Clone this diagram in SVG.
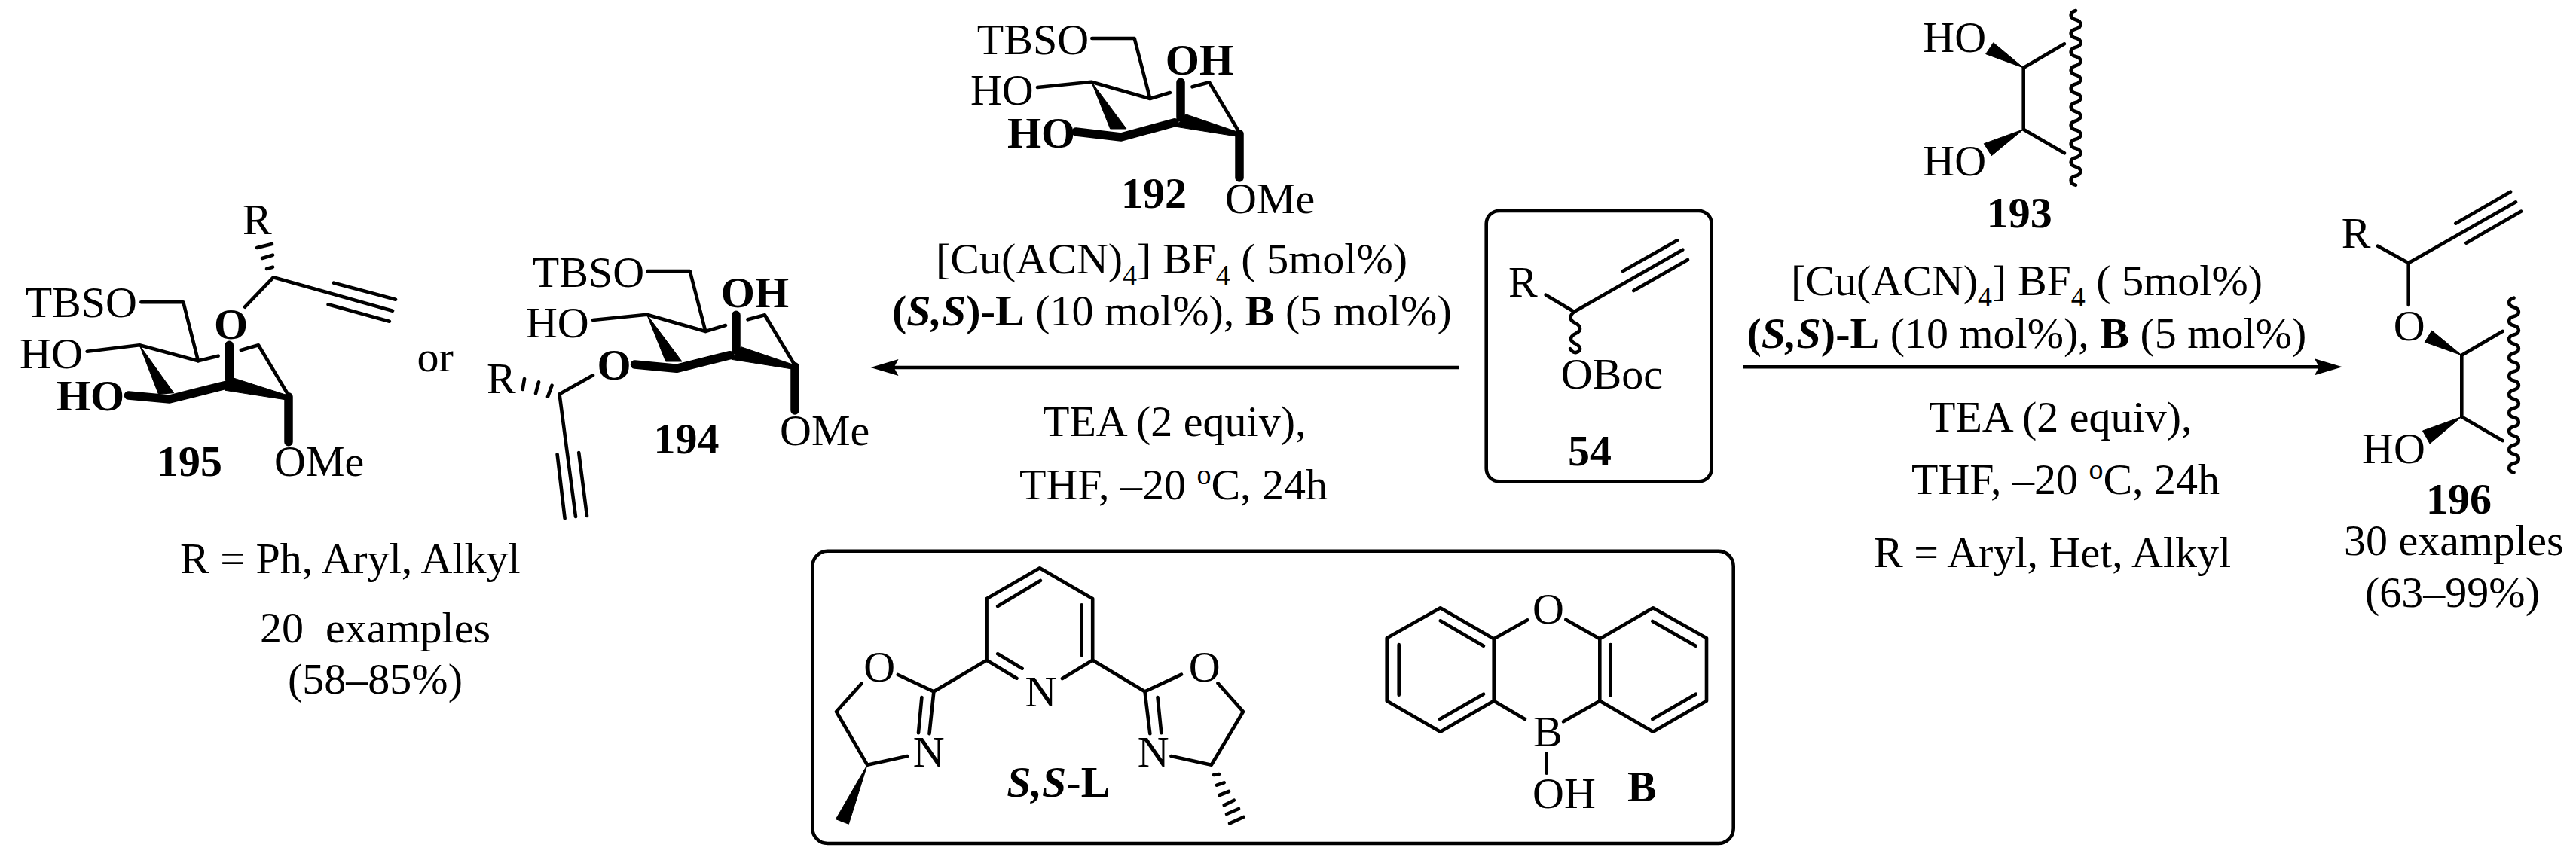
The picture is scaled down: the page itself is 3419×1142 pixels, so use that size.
<svg xmlns="http://www.w3.org/2000/svg" width="3419" height="1142" viewBox="0 0 3419 1142">
<style>
text{font-family:"Liberation Serif","Times New Roman",serif;font-size:58px;fill:#000}
.k{font-weight:bold}
.i{font-style:italic}
.s{font-size:38px}
.b{fill:none;stroke:#000;stroke-width:4.6;stroke-linecap:round;stroke-linejoin:round}
.h{fill:none;stroke:#000;stroke-width:11.5;stroke-linecap:round;stroke-linejoin:round}
.w{fill:#000;stroke:#000;stroke-width:1;stroke-linejoin:round}
.box{fill:none;stroke:#000;stroke-width:4.6}
.a{fill:none;stroke:#000;stroke-width:4.6;marker-end:url(#ah)}
</style>
<defs>
<marker id="ah" markerUnits="userSpaceOnUse" markerWidth="40" markerHeight="24" viewBox="0 -12 40 24" refX="6" refY="0" orient="auto"><path d="M0,-11 L37,0 L0,11 L6,0 Z" fill="#000"/></marker>
<path id="wave" class="b" d="M2755,14 c-8.5,2 -8.5,10.2 0,12.2 s8.5,10.2 0,12.2 s-8.5,10.2 0,12.2 s8.5,10.2 0,12.2 s-8.5,10.2 0,12.2 s8.5,10.2 0,12.2 s-8.5,10.2 0,12.2 s8.5,10.2 0,12.2 s-8.5,10.2 0,12.2 s8.5,10.2 0,12.2 s-8.5,10.2 0,12.2 s8.5,10.2 0,12.2 s-8.5,10.2 0,12.2 s8.5,10.2 0,12.2 s-8.5,10.2 0,12.2 s8.5,10.2 0,12.2 s-8.5,10.2 0,12.2 s8.5,10.2 0,12.2 s-8.5,10.2 0,12.2"/>
</defs>

<g id="connectors">
<path class="a" d="M1937,488 H1186.5"/>
<path class="a" d="M2313,487.3 H3078"/>
</g>

<g id="n195">
<text x="322" y="310.7">R</text>
<path class="b" d="M341,329 L361,324 M348,343 L362,338.7 M354,357 L362,354.7"/>
<path class="b" d="M325,407.7 L362.8,368.3 L521,412.7 M443,375.7 L525,397.7 M435.6,404.3 L516.8,426.7"/>
<text x="33.7" y="420.7">TBSO</text>
<path class="b" d="M187.3,401.3 H243.3 L263,479.3"/>
<text class="k" x="284" y="450">O</text>
<text x="26" y="489">HO</text>
<path class="b" d="M115.7,466.7 L185.2,458.3 L263,479.3 L289.6,472.7 M319.9,465 L343,458.3 L383,525"/>
<polygon class="w" points="185.2,458.3 210.4,523.3 230.6,521.7"/>
<text class="k" x="75" y="545">HO</text>
<path class="h" d="M170.5,525 L225,530 L301,511 M304.3,458.3 V503 M383,526.7 V586.7"/>
<polygon class="w" points="309,501.7 299,518.3 385,531.7 385,526"/>
<text class="k" x="208" y="631.7">195</text>
<text x="364" y="631.7">OMe</text>
<text x="553.5" y="492.7">or</text>
<text x="239" y="761">R = Ph, Aryl, Alkyl</text>
<text x="345" y="852.7" xml:space="preserve">20  examples</text>
<text x="382" y="920.7">(58–85%)</text>
</g>

<g id="n194">
<text x="646" y="521.7">R</text>
<path class="b" d="M696,503 L693.6,517 M715,507.3 L711,522.3 M732.5,511.7 L727,526.7"/>
<path class="b" d="M787,498.3 L742.5,523.3 L764,686 M739.6,603.3 L749.6,688.3 M768.2,601 L779,685"/>
<text class="k" x="792.5" y="504">O</text>
<text x="706.8" y="380.7">TBSO</text>
<path class="b" d="M859.3,360 H915.7 L936.4,440"/>
<text x="697.9" y="447.7">HO</text>
<path class="b" d="M787,425 L858.6,417.7 L936.4,440 L962.9,432 M992.5,424.3 L1015,418.3 L1055,485"/>
<text class="k" x="956.8" y="408.3">OH</text>
<polygon class="w" points="858.6,417.7 883.6,480 905,480"/>
<path class="h" d="M842.5,484 L897.9,489.3 L969,471.7 M977,418.3 V465 M1055,486.7 V545"/>
<polygon class="w" points="983.6,460.7 971,477.3 1051.4,490 1055,485"/>
<text class="k" x="867.5" y="601.7">194</text>
<text x="1035" y="590.7">OMe</text>
</g>

<g id="n192" transform="translate(590,-309)">
<text x="706.8" y="380.7">TBSO</text>
<path class="b" d="M859.3,360 H915.7 L936.4,440"/>
<text x="697.9" y="447.7">HO</text>
<path class="b" d="M787,425 L858.6,417.7 L936.4,440 L962.9,432 M992.5,424.3 L1015,418.3 L1055,485"/>
<text class="k" x="956.8" y="408.3">OH</text>
<polygon class="w" points="858.6,417.7 883.6,480 905,480"/>
<text class="k" x="747" y="504.7">HO</text>
<path class="h" d="M838,484 L897.9,491 L969,471.7 M977,418.3 V465 M1055,486.7 V545"/>
<polygon class="w" points="983.6,460.7 971,477.3 1051.4,490 1055,485"/>
<text class="k" x="898" y="585">192</text>
<text x="1036" y="591.7">OMe</text>
</g>

<g id="n54">
<rect class="box" x="1972.7" y="280" width="299" height="359.3" rx="17"/>
<text x="2002" y="394">R</text>
<path class="b" d="M2051.7,391.7 L2089.3,414 L2233.3,331.7 M2154,360 L2226,319.3 M2168.3,386 L2240,345"/>
<path class="b" d="M2089.3,414 C2083,419 2083,425 2090,428.5 C2099,433 2099,439 2092,442.5 C2083,447 2083,452 2090,456 C2099,460 2099,466 2092,468 Q2088,469 2084,463.3"/>
<text x="2071.7" y="516">OBoc</text>
<text class="k" x="2081" y="618.3">54</text>
</g>

<g id="n193">
<text x="2552.3" y="69.3">HO</text>
<text x="2552.3" y="232.7">HO</text>
<polygon class="w" points="2685.7,90 2645.7,56.7 2635.7,71.7"/>
<polygon class="w" points="2685.7,171.7 2633.3,190.7 2643.3,206.7"/>
<path class="b" d="M2740,58.3 L2685.7,90 V171.7 L2740,203.3"/>
<use href="#wave"/>
<text class="k" x="2636.7" y="302">193</text>
</g>

<g id="n196">
<text x="3107.7" y="329.3">R</text>
<path class="b" d="M3156,326.7 L3196.7,349.3 L3339,268.3 M3259.3,296.7 L3332,254.7 M3273.3,322.7 L3346,280.7 M3196.7,349.3 V405"/>
<text x="3176.7" y="451.7">O</text>
<polygon class="w" points="3267.3,471.7 3227.7,439 3218.3,454.3"/>
<polygon class="w" points="3267.3,553.4 3215.5,572 3225,589"/>
<path class="b" d="M3321.5,440 L3267.3,471.7 V553.4 L3321.5,585"/>
<use href="#wave" transform="translate(581.5,381.7)"/>
<text x="3135" y="615.3">HO</text>
<text class="k" x="3220" y="681.7">196</text>
<text x="3111" y="736.7">30 examples</text>
<text x="3139" y="806">(63–99%)</text>
</g>

<g id="cond-left">
<text x="1242" y="362.7">[Cu(ACN)<tspan class="s" dy="15">4</tspan><tspan dy="-15">] BF</tspan><tspan class="s" dy="15">4</tspan><tspan dy="-15"> ( 5mol%)</tspan></text>
<text x="1184" y="432"><tspan class="k">(</tspan><tspan class="k i">S,S</tspan><tspan class="k">)-L</tspan> (10 mol%), <tspan class="k">B</tspan> (5 mol%)</text>
<text x="1384" y="579">TEA (2 equiv),</text>
<text x="1353" y="663">THF, –20 <tspan class="s" dy="-20">o</tspan><tspan dy="20">C, 24h</tspan></text>
</g>

<g id="cond-right">
<text x="2377" y="392">[Cu(ACN)<tspan class="s" dy="15">4</tspan><tspan dy="-15">] BF</tspan><tspan class="s" dy="15">4</tspan><tspan dy="-15"> ( 5mol%)</tspan></text>
<text x="2318.5" y="462"><tspan class="k">(</tspan><tspan class="k i">S,S</tspan><tspan class="k">)-L</tspan> (10 mol%), <tspan class="k">B</tspan> (5 mol%)</text>
<text x="2560" y="573">TEA (2 equiv),</text>
<text x="2537" y="656">THF, –20 <tspan class="s" dy="-20">o</tspan><tspan dy="20">C, 24h</tspan></text>
<text x="2487" y="753">R = Aryl, Het, Alkyl</text>
</g>

<g id="n-ligand">
<rect class="box" x="1078.4" y="731.7" width="1222.3" height="388.3" rx="20"/>
<path class="b" d="M1349.4,900.7 L1309.6,876.7 V795 L1380,754.3 L1450.2,795 V876.7 L1410,901 M1324.2,805 L1380.9,771 M1435.7,803.3 V870 M1324.2,868.3 L1356.6,887.7"/>
<text x="1360.5" y="937.7">N</text>
<path class="b" d="M1309.6,876.7 L1239.4,918.3 L1191.8,896 M1143.4,907.7 L1110,945 L1151.1,1015.7 L1204.4,1004 M1239.4,918.3 L1233.5,974.3 M1223.4,926 L1219,973.3"/>
<text x="1146.3" y="905">O</text>
<text x="1211.7" y="1018.3">N</text>
<polygon class="w" points="1151.1,1015.7 1109.4,1087.7 1126.4,1094.3"/>
<path class="b" d="M1450.2,876.7 L1519.5,918.3 L1568,895.7 M1616.5,907.3 L1650,945 L1607.8,1015.7 L1554.4,1004 M1519.5,918.3 L1526.3,974.3 M1536.5,926 L1541.3,973.3"/>
<text x="1577.7" y="905">O</text>
<text x="1509.8" y="1018.3">N</text>
<path class="b" d="M1611,1029 L1618,1028 M1615,1042.7 L1624.7,1039.3 M1618.4,1056 L1631,1051 M1624.7,1069.3 L1637.8,1062.7 M1628,1081 L1644,1074 M1632,1093.3 L1650.4,1085"/>
<text class="k" x="1336.3" y="1058.3"><tspan class="i">S,S</tspan>-L</text>
</g>

<g id="n-B">
<path class="b" d="M2027.3,823.3 L1982.7,848.3 L1911.7,807.3 L1840.7,847.3 V930.7 L1911.7,971.7 L1982.7,930.7 V848.3 M1982.7,930.7 L2024,955 M1911.7,824.3 L1969,857.7 M1856.7,856 V922.7 M1911,955 L1969,921.7"/>
<path class="b" d="M2078.3,822.7 L2123.3,848.3 L2194,807.3 L2265,847.3 V930.7 L2194,971.7 L2123.3,930.7 V848.3 M2123.3,930.7 L2075,958.3 M2137.7,856 V923.3 M2193.3,825 L2250.7,857.7 M2193.3,955 L2250.7,921.7"/>
<text x="2034" y="827.7">O</text>
<text x="2035" y="991">B</text>
<path class="b" d="M2052.7,1000.7 V1026.7"/>
<text x="2034" y="1072.7">OH</text>
<text class="k" x="2160" y="1064.3">B</text>
</g>
</svg>
